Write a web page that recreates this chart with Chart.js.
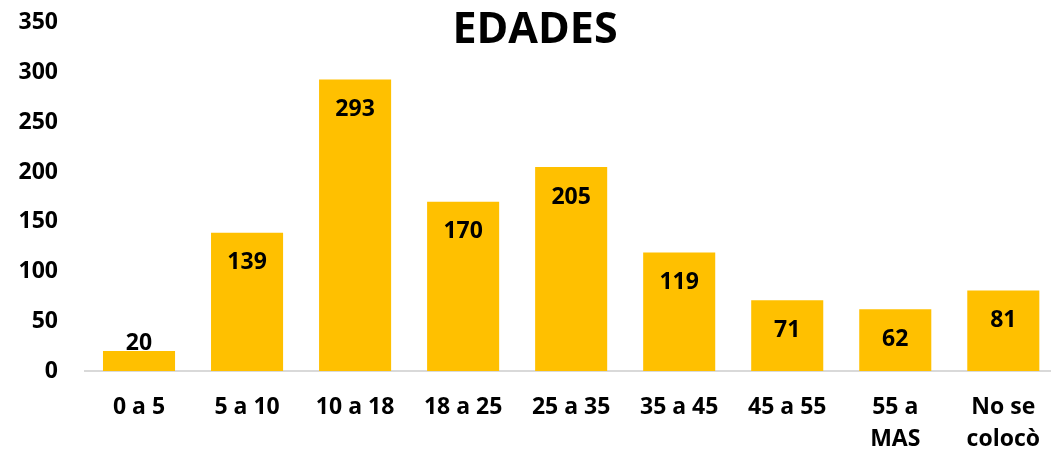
<!DOCTYPE html>
<html>
<head>
<meta charset="utf-8">
<script src="https://cdn.jsdelivr.net/npm/chart.js@4.4.1/dist/chart.umd.min.js"></script>
<style>
  html, body { margin: 0; padding: 0; background: #fff; overflow: hidden; }
  #wrap { position: relative; width: 1051px; height: 458px; overflow: hidden; }
  #title { position: absolute; left: 0; width: 1070px; top: 0px; text-align: center;
           font-family: "Open Sans", sans-serif; font-weight: 700; font-size: 43px; color: #000; line-height: 54px; }
  canvas { position: absolute; left: 0; top: -18px; }
</style>
</head>
<body>
<div id="wrap">
  <canvas id="c" width="1060" height="476"></canvas>
  <div id="title">EDADES</div>
</div>
<script>
const categories = ["0 a 5", "5 a 10", "10 a 18", "18 a 25", "25 a 35", "35 a 45", "45 a 55", ["55 a", "MAS"], ["No se", "colocò"]];
const values = [20, 139, 293, 170, 205, 119, 71, 62, 81];
const yTicks = [0, 50, 100, 150, 200, 250, 300, 350];

const FONT = "'Open Sans', sans-serif";

const barLabels = {
  id: 'barLabels',
  afterDatasetsDraw(chart) {
    const ctx = chart.ctx;
    const meta = chart.getDatasetMeta(0);
    ctx.save();
    ctx.font = "700 23px " + FONT;
    ctx.fillStyle = "#000";
    ctx.textAlign = "center";
    ctx.textBaseline = "middle";
    meta.data.forEach((bar, i) => {
      const p = bar.getProps(['x', 'y', 'base'], true);
      const y = Math.min(p.y + 30, p.base - 28);
      ctx.fillText(String(values[i]), p.x, y);
    });
    ctx.restore();
  }
};

new Chart(document.getElementById('c'), {
  type: 'bar',
  data: {
    labels: categories,
    datasets: [{
      data: values,
      backgroundColor: '#FFC000',
      borderWidth: 0,
      barPercentage: 0.667,
      categoryPercentage: 1.0
    }]
  },
  options: {
    responsive: false,
    animation: false,
    layout: { padding: 0 },
    plugins: { legend: { display: false }, tooltip: { enabled: false }, title: { display: false } },
    scales: {
      y: {
        min: 0, max: 350,
        afterBuildTicks: (s) => { s.ticks = yTicks.map(v => ({ value: v })); },
        afterFit: (s) => { s.width = 85; },
        grid: { display: false, drawTicks: false },
        border: { display: false },
        ticks: { color: '#000', padding: 27, font: { family: FONT, weight: '700', size: 23 } }
      },
      x: {
        grid: { display: false, drawTicks: false },
        border: { display: true, color: '#d9d9d9', width: 2 },
        afterFit: (s) => { s.height = 87; },
        ticks: { color: '#000', padding: 20, maxRotation: 0, autoSkip: false,
                 font: { family: FONT, weight: '700', size: 23, lineHeight: 1.4 } }
      }
    }
  },
  plugins: [barLabels]
});
</script>
</body>
</html>
